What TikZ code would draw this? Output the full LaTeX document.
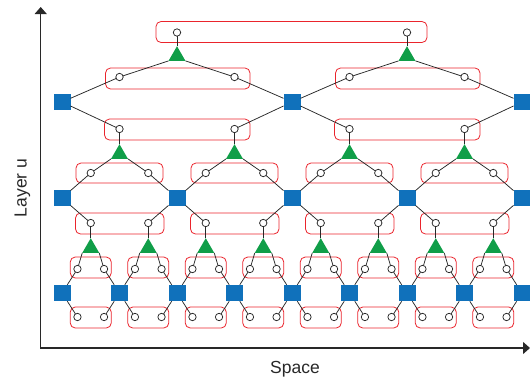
\documentclass[tikz,border=0pt]{standalone}
\usepackage{fontspec}
\setmainfont{Liberation Sans}
\usetikzlibrary{shapes.geometric,arrows.meta}
\definecolor{sqblue}{RGB}{16,113,187}
\definecolor{trigreen}{RGB}{16,158,72}
\definecolor{boxred}{RGB}{234,36,44}
\definecolor{linegray}{RGB}{40,40,40}
\begin{document}
\begin{tikzpicture}[x=1pt,y=-1pt,
  sq/.style={rectangle,fill=sqblue,minimum width=17pt,minimum height=16.5pt,inner sep=0pt,outer sep=0pt},
  cir/.style={circle,draw=linegray,fill=white,line width=0.75pt,minimum size=7.4pt,inner sep=0pt,outer sep=0pt},
  tri/.style={regular polygon,regular polygon sides=3,fill=trigreen,minimum size=19.6pt,inner sep=0pt,outer sep=0pt},
  grp/.style={draw=boxred,line width=0.8pt,rounded corners=5pt},
  wire/.style={draw=linegray,line width=0.75pt},
  axisline/.style={draw=linegray,line width=1.2pt,-{Triangle[length=7pt,width=12pt]}},
  lab/.style={font=\fontsize{17.5}{20}\selectfont,text=linegray,inner sep=0pt}]
\useasboundingbox (0,0) rectangle (530,378);

% ---- red group boxes (drawn first) ----
\draw[grp] (156,21.5) rectangle (427,42.5);
\foreach \k in {4,12} {
  \pgfmathsetmacro\xc{62+28.75*\k}
  \draw[grp] (\xc-71.5,68) rectangle (\xc+73,89);
  \draw[grp] (\xc-72.5,119) rectangle (\xc+73,140);
}
\foreach \m in {2,6,10,14} {
  \pgfmathsetmacro\xc{62+28.75*\m}
  \draw[grp] (\xc-43.5,163) rectangle (\xc+43.5,183);
  \draw[grp] (\xc-44,213) rectangle (\xc+44.5,234);
}
\foreach \n in {1,3,...,15} {
  \pgfmathsetmacro\xc{62+28.75*\n}
  \draw[grp] (\xc-20.5,257) rectangle (\xc+20.5,278);
  \draw[grp] (\xc-20.5,307) rectangle (\xc+20.5,328);
}

% ---- blue squares ----
\foreach \j in {0,8,16} \node[sq] (A\j) at ({62+28.75*\j},102) {};
\foreach \j in {0,4,...,16} \node[sq] (B\j) at ({62+28.75*\j},198) {};
\foreach \j in {0,2,...,16} \node[sq] (C\j) at ({62+28.75*\j},293) {};

% ---- top level ----
\foreach \k in {4,12} {
  \pgfmathsetmacro\xc{62+28.75*\k}
  \node[cir] (T\k) at (\xc,32.5) {};
  \node[tri] (TT\k) at (\xc,56) {};
}

% ---- level 1 circles (above row A) ----
\foreach \i in {2,6,10,14} \node[cir] (Ua\i) at ({62+28.75*\i},77) {};
% ---- level 2 circles + triangles (below row A) ----
\foreach \i in {2,6,10,14} {
  \node[cir] (Da\i) at ({62+28.75*\i},129) {};
  \node[tri] (Ta\i) at ({62+28.75*\i},154) {};
}
% ---- level 3 circles (above row B) ----
\foreach \i in {1,3,...,15} \node[cir] (Ub\i) at ({62+28.75*\i},173) {};
% ---- level 4 circles + triangles (below row B) ----
\foreach \i in {1,3,...,15} {
  \node[cir] (Db\i) at ({62+28.75*\i},223) {};
  \node[tri] (Tb\i) at ({62+28.75*\i},248) {};
}
% ---- level 5 and 6 circles (around row C) ----
\foreach \i in {1,3,...,15} {
  \pgfmathsetmacro\xc{62+28.75*\i}
  \node[cir] (UcL\i) at (\xc-13.3,269) {};
  \node[cir] (UcR\i) at (\xc+13.3,269) {};
  \node[cir] (DcL\i) at (\xc-13.3,317) {};
  \node[cir] (DcR\i) at (\xc+13.3,317) {};
}

% ---- wires ----
\foreach \k in {4,12} {
  \pgfmathtruncatemacro\l{\k-2}
  \pgfmathtruncatemacro\r{\k+2}
  \pgfmathtruncatemacro\al{\k-4}
  \pgfmathtruncatemacro\ar{\k+4}
  \draw[wire] (T\k) -- (TT\k.corner 1);
  \draw[wire] (TT\k.corner 2) -- (Ua\l);
  \draw[wire] (TT\k.corner 3) -- (Ua\r);
  \draw[wire] (Ua\l) -- (A\al);
  \draw[wire] (Ua\r) -- (A\ar);
}
\foreach \m/\a in {2/0,6/8,10/8,14/16} {
  \pgfmathtruncatemacro\l{\m-1}
  \pgfmathtruncatemacro\r{\m+1}
  \pgfmathtruncatemacro\bl{\m-2}
  \pgfmathtruncatemacro\br{\m+2}
  \draw[wire] (A\a) -- (Da\m);
  \draw[wire] (Da\m) -- (Ta\m.corner 1);
  \draw[wire] (Ta\m.corner 2) -- (Ub\l);
  \draw[wire] (Ta\m.corner 3) -- (Ub\r);
  \draw[wire] (Ub\l) -- (B\bl);
  \draw[wire] (Ub\r) -- (B\br);
}
\foreach \n/\b in {1/0,3/4,5/4,7/8,9/8,11/12,13/12,15/16} {
  \pgfmathtruncatemacro\cl{\n-1}
  \pgfmathtruncatemacro\cr{\n+1}
  \draw[wire] (B\b) -- (Db\n);
  \draw[wire] (Db\n) -- (Tb\n.corner 1);
  \draw[wire] (Tb\n.corner 2) -- (UcL\n);
  \draw[wire] (Tb\n.corner 3) -- (UcR\n);
  \draw[wire] (UcL\n) -- (C\cl);
  \draw[wire] (UcR\n) -- (C\cr);
  \draw[wire] (C\cl) -- (DcL\n);
  \draw[wire] (C\cr) -- (DcR\n);
}

% ---- axes ----
\coordinate (O) at (40.7,348);
\coordinate (Ytip) at (40.7,7);
\coordinate (Xtip) at (530,348);
\draw[axisline] ([yshift=-0.6pt]O) -- (Ytip);
\draw[axisline] ([xshift=-0.6pt]O) -- (Xtip);

% ---- labels ----
\node[lab,anchor=base] (xlab) at (295,373) {Space};
\node[lab,rotate=90,anchor=base] (ylab) at (26.5,188) {Layer u};
\end{tikzpicture}
\end{document}
